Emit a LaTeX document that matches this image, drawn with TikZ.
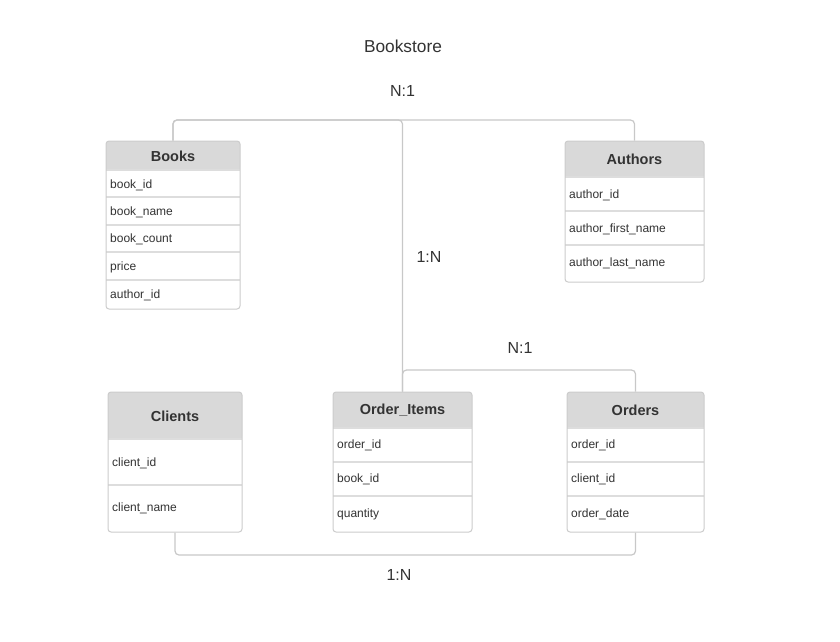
\documentclass[tikz,border=0pt]{standalone}
\usepackage{fontspec}
\setmainfont{Liberation Sans}
\definecolor{txt}{HTML}{333333}
\definecolor{hdr}{HTML}{D9D9D9}
\definecolor{bord}{HTML}{CCCCCC}
\definecolor{sepc}{HTML}{DDDDDD}
\definecolor{linec}{HTML}{C8C8C8}
\tikzset{
  tbl/.style={draw=bord, line width=1pt, rounded corners=3pt, inner sep=0pt},
  hdrfill/.style={fill=hdr},
  sep/.style={draw=sepc, line width=1.3pt},
  htext/.style={font=\fontsize{14.5}{16}\selectfont\bfseries, text=txt, inner sep=0pt},
  field/.style={font=\fontsize{12}{14}\selectfont, text=txt, anchor=west, inner sep=0pt, text height=9pt, text depth=3pt},
  lbl/.style={font=\fontsize{16}{18}\selectfont, text=txt, inner sep=0pt},
  conn/.style={draw=linec, line width=1.2pt, rounded corners=4pt}
}
\newcommand{\mktable}[6]{% name, x1, y1, x2, y2, header bottom
  \fill[hdrfill, rounded corners=3pt] (#2,#3) rectangle (#4,#6);
  \fill[hdrfill] (#2,#6-5) rectangle (#4,#6);
  \draw[sep] (#2,#6) -- (#4,#6);
}
\begin{document}
\begin{tikzpicture}[x=1pt,y=-1pt]
\useasboundingbox[fill=white] (0,0) rectangle (840,641);

% header fills
\mktable{books}{106}{141}{240}{309}{170}
\mktable{authors}{565}{141}{704}{282}{177}
\mktable{clients}{108}{392}{242}{532}{439}
\mktable{oitems}{333}{392}{472}{532}{428}
\mktable{orders}{567}{392}{704}{532}{428}

% row separators
\draw[sep] (106,197) -- (240,197);
\draw[sep] (106,225) -- (240,225);
\draw[sep] (106,252) -- (240,252);
\draw[sep] (106,280) -- (240,280);
\draw[sep] (565,211) -- (704,211);
\draw[sep] (565,245) -- (704,245);
\draw[sep] (108,485) -- (242,485);
\draw[sep] (333,462) -- (472,462);
\draw[sep] (333,496) -- (472,496);
\draw[sep] (567,462) -- (704,462);
\draw[sep] (567,496) -- (704,496);

% outlines
\node[tbl, minimum width=134pt, minimum height=168pt] (books) at (173,225) {};
\node[tbl, minimum width=139pt, minimum height=141pt] (authors) at (634.5,211.5) {};
\node[tbl, minimum width=134pt, minimum height=140pt] (clients) at (175,462) {};
\node[tbl, minimum width=139pt, minimum height=140pt] (oitems) at (402.5,462) {};
\node[tbl, minimum width=137pt, minimum height=140pt] (orders) at (635.5,462) {};

% headers
\node[htext] (booksT) at (173,156.5) {Books};
\node[htext] (authorsT) at (634.5,159.5) {Authors};
\node[htext] (clientsT) at (175,416.5) {Clients};
\node[htext] (oitemsT) at (402.5,410.5) {Order\_Items};
\node[htext] (ordersT) at (635.5,410.5) {Orders};

% fields
\node[field] (b1) at (110,185) {book\_id};
\node[field] (b2) at (110,212) {book\_name};
\node[field] (b3) at (110,239.5) {book\_count};
\node[field] (b4) at (110,267) {price};
\node[field] (b5) at (110,295) {author\_id};
\node[field] (a1) at (569,195) {author\_id};
\node[field] (a2) at (569,229) {author\_first\_name};
\node[field] (a3) at (569,263) {author\_last\_name};
\node[field] (c1) at (112,463) {client\_id};
\node[field] (c2) at (112,508) {client\_name};
\node[field] (o1) at (337,445) {order\_id};
\node[field] (o2) at (337,479) {book\_id};
\node[field] (o3) at (337,514) {quantity};
\node[field] (r1) at (571,445) {order\_id};
\node[field] (r2) at (571,479) {client\_id};
\node[field] (r3) at (571,514) {order\_date};

% helper coordinates
\coordinate (topy) at (0,120);
\coordinate (midy) at (0,370);
\coordinate (boty) at (0,555);

% connectors
\draw[conn] (books.north) -- (books.north |- topy) -- (authors.north |- topy) -- (authors.north);
\draw[conn] (books.north) -- (books.north |- topy) -- (oitems.north |- topy) -- (oitems.north);
\draw[conn] (oitems.north) -- (oitems.north |- midy) -- (orders.north |- midy) -- (orders.north);
\draw[conn] (clients.south) -- (clients.south |- boty) -- (orders.south |- boty) -- (orders.south);

% labels
\node[font=\fontsize{17.3}{20}\selectfont, text=txt, inner sep=0pt] (title) at (403,46) {Bookstore};
\node[lbl] (l1) at (402.5,91) {N:1};
\node[lbl] (l2) at (429,257) {1:N};
\node[lbl] (l3) at (520,348) {N:1};
\node[lbl] (l4) at (399,575) {1:N};
\end{tikzpicture}
\end{document}
